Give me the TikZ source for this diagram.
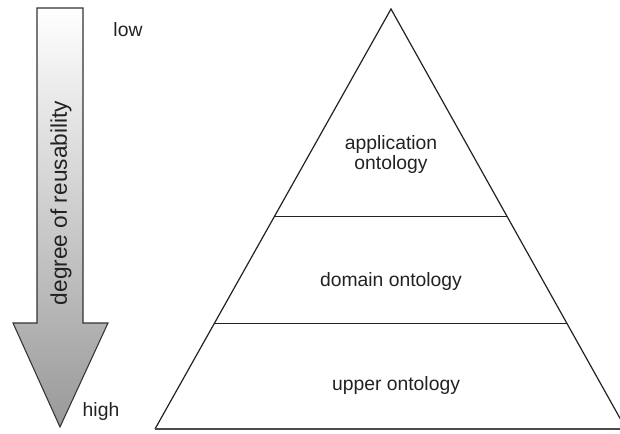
\documentclass[tikz,border=0pt]{standalone}
\usepackage{fontspec}
\setmainfont{Liberation Sans}
\usetikzlibrary{calc}
\definecolor{ink}{HTML}{222222}

\begin{document}
\begin{tikzpicture}[x=0.75pt, y=-0.75pt,
  layer/.style={draw=ink, line width=0.9pt},
  lbl/.style={font=\fontsize{14.5}{15}\selectfont, text=ink, align=center},
  shaft/.style={draw=black!80, line width=0.8pt, top color=white, bottom color=black!40}
]
\useasboundingbox (0,0) rectangle (620,434);

% reusability arrow
\path[shaft] (37,8) coordinate (tl) -- (83,8) -- (83,323) -- (108,323)
  -- (60,427) coordinate (tip) -- (13,323) -- (37,323) -- cycle;
\node[lbl, font=\fontsize{17}{18}\selectfont, rotate=90] (reuse) at (61,203) {degree of reusability};
\node[lbl] (low) at (128,30) {low};
\node[lbl] (high) at (101,411) {high};

% pyramid
\coordinate (apex) at (391,9);
\coordinate (bl) at (155,429);
\coordinate (br) at (626,429);
\draw[layer] (bl) -- (apex) -- (br);
\draw[layer, line width=1.3pt, draw=black!70] (bl) -- (br);
\coordinate (d1l) at ($(apex)!0.495!(bl)$);
\coordinate (d1r) at ($(apex)!0.495!(br)$);
\coordinate (d2l) at ($(apex)!0.748!(bl)$);
\coordinate (d2r) at ($(apex)!0.748!(br)$);
\draw[layer] (d1l) -- (d1r);
\draw[layer] (d2l) -- (d2r);

\node[lbl] (app) at (391,155) {application\\ontology};
\node[lbl] (dom) at (391,282) {domain ontology};
\node[lbl] (upp) at (396,385) {upper ontology};
\end{tikzpicture}
\end{document}
